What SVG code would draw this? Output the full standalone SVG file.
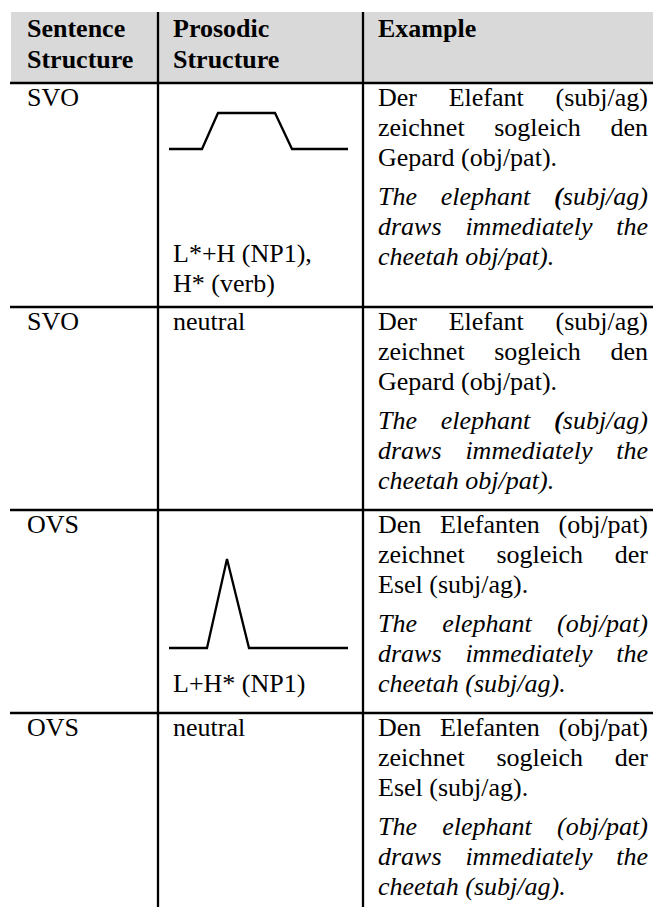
<svg xmlns="http://www.w3.org/2000/svg" width="653" height="907" viewBox="0 0 653 907">
<style>
text{font-family:"Liberation Serif","Times New Roman",serif;font-size:26px;fill:#000}
.b{font-weight:bold}
.i{font-style:italic}
.rule{stroke:#000;stroke-width:2.3;fill:none}
.curve{stroke:#000;stroke-width:2.3;fill:none;stroke-linejoin:miter}
</style>
<rect x="11" y="12" width="642" height="71" fill="#d9d9d9"/>
<g id="connectors">
<line class="rule" x1="10" y1="83" x2="653" y2="83"/>
<line class="rule" x1="10" y1="307" x2="653" y2="307"/>
<line class="rule" x1="10" y1="510" x2="653" y2="510"/>
<line class="rule" x1="10" y1="713" x2="653" y2="713"/>
<line class="rule" x1="158" y1="12" x2="158" y2="907"/>
<line class="rule" x1="363" y1="12" x2="363" y2="907"/>
</g>
<g id="header">
<text class="b" x="27" y="37">Sentence</text>
<text class="b" x="27" y="68">Structure</text>
<text class="b" x="173" y="37">Prosodic</text>
<text class="b" x="173" y="68">Structure</text>
<text class="b" x="378" y="37">Example</text>
</g>
<g id="row1">
<text x="27" y="106">SVO</text>
<polyline class="curve" points="169,149 202,149 218,113 275,113 292,149 348,149"/>
<text x="173" y="262">L*+H (NP1),</text>
<text x="173" y="292">H* (verb)</text>
<text y="106"><tspan x="378">Der</tspan><tspan x="448.7">Elefant</tspan><tspan x="555.6">(subj/ag)</tspan></text>
<text y="136"><tspan x="378">zeichnet</tspan><tspan x="494.2">sogleich</tspan><tspan x="610.5">den</tspan></text>
<text x="378" y="166">Gepard (obj/pat).</text>
<text class="i" y="205"><tspan x="378">The</tspan><tspan x="440.8">elephant</tspan><tspan x="554.1"><tspan class="b">(</tspan>subj/ag)</tspan></text>
<text class="i" y="235"><tspan x="378">draws</tspan><tspan x="465.4">immediately</tspan><tspan x="616.2">the</tspan></text>
<text class="i" x="378" y="265">cheetah obj/pat).</text>
</g>
<g id="row2">
<text x="27" y="330">SVO</text>
<text x="173" y="330">neutral</text>
<text y="330"><tspan x="378">Der</tspan><tspan x="448.7">Elefant</tspan><tspan x="555.6">(subj/ag)</tspan></text>
<text y="360"><tspan x="378">zeichnet</tspan><tspan x="494.2">sogleich</tspan><tspan x="610.5">den</tspan></text>
<text x="378" y="390">Gepard (obj/pat).</text>
<text class="i" y="429"><tspan x="378">The</tspan><tspan x="440.8">elephant</tspan><tspan x="554.1"><tspan class="b">(</tspan>subj/ag)</tspan></text>
<text class="i" y="459"><tspan x="378">draws</tspan><tspan x="465.4">immediately</tspan><tspan x="616.2">the</tspan></text>
<text class="i" x="378" y="489">cheetah obj/pat).</text>
</g>
<g id="row3">
<text x="27" y="533">OVS</text>
<polyline class="curve" points="169,648 207,648 227,559 249,648 348,648"/>
<text x="173" y="692">L+H* (NP1)</text>
<text y="533"><tspan x="378">Den</tspan><tspan x="440.1">Elefanten</tspan><tspan x="558.5">(obj/pat)</tspan></text>
<text y="563"><tspan x="378">zeichnet</tspan><tspan x="496.4">sogleich</tspan><tspan x="614.8">der</tspan></text>
<text x="378" y="593">Esel (subj/ag).</text>
<text class="i" y="632"><tspan x="378">The</tspan><tspan x="442.2">elephant</tspan><tspan x="557">(obj/pat)</tspan></text>
<text class="i" y="662"><tspan x="378">draws</tspan><tspan x="465.4">immediately</tspan><tspan x="616.2">the</tspan></text>
<text class="i" x="378" y="692">cheetah (subj/ag).</text>
</g>
<g id="row4">
<text x="27" y="736">OVS</text>
<text x="173" y="736">neutral</text>
<text y="736"><tspan x="378">Den</tspan><tspan x="440.1">Elefanten</tspan><tspan x="558.5">(obj/pat)</tspan></text>
<text y="766"><tspan x="378">zeichnet</tspan><tspan x="496.4">sogleich</tspan><tspan x="614.8">der</tspan></text>
<text x="378" y="796">Esel (subj/ag).</text>
<text class="i" y="835"><tspan x="378">The</tspan><tspan x="442.2">elephant</tspan><tspan x="557">(obj/pat)</tspan></text>
<text class="i" y="865"><tspan x="378">draws</tspan><tspan x="465.4">immediately</tspan><tspan x="616.2">the</tspan></text>
<text class="i" x="378" y="895">cheetah (subj/ag).</text>
</g>
</svg>
